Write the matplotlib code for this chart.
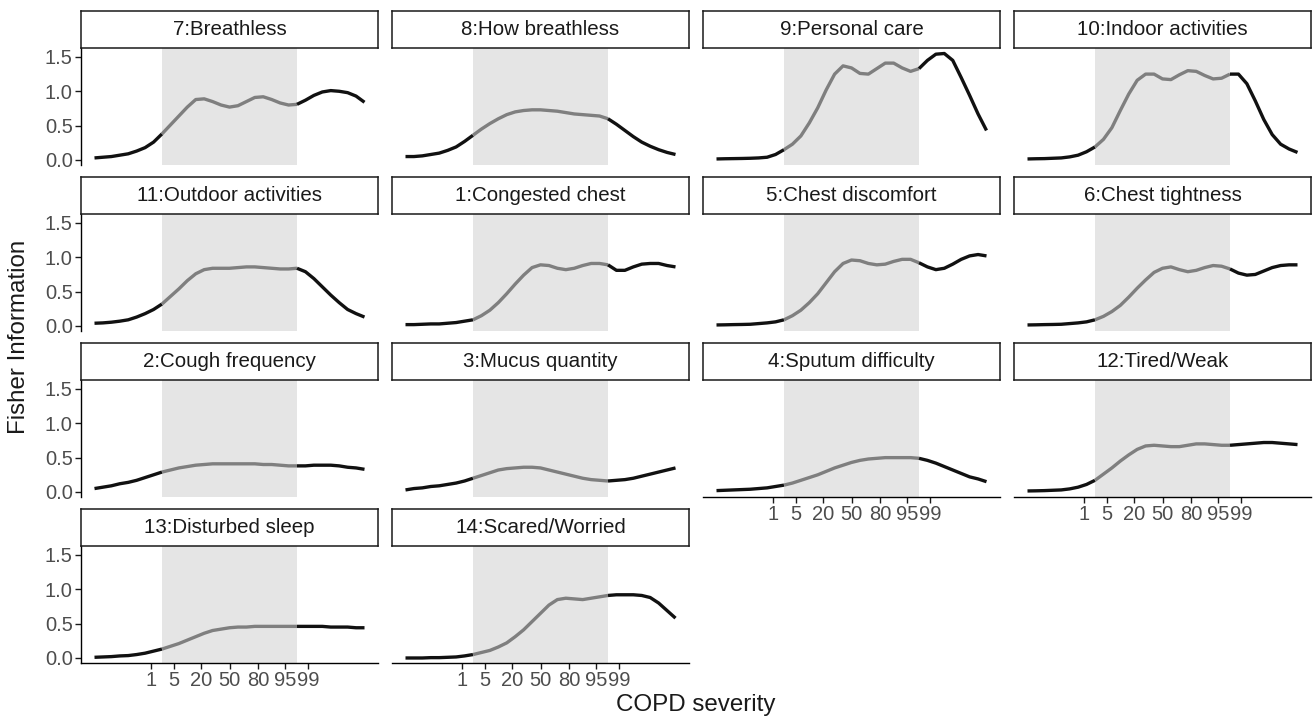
from statistics import NormalDist
import numpy as np
import matplotlib
matplotlib.use("Agg")
import matplotlib.pyplot as plt

plt.rcParams["font.family"] = ["Liberation Sans", "DejaVu Sans"]

# severity on the latent (theta) scale, step 0.25
theta = np.arange(-4, 4.001, 0.25)

titles = [
    "7:Breathless", "8:How breathless", "9:Personal care", "10:Indoor activities",
    "11:Outdoor activities", "1:Congested chest", "5:Chest discomfort", "6:Chest tightness",
    "2:Cough frequency", "3:Mucus quantity", "4:Sputum difficulty", "12:Tired/Weak",
    "13:Disturbed sleep", "14:Scared/Worried",
]

breathless = [0.03, 0.04, 0.05, 0.07, 0.09, 0.13, 0.18, 0.26, 0.38, 0.51, 0.64, 0.77, 0.88,
              0.89, 0.85, 0.80, 0.77, 0.79, 0.85, 0.91, 0.92, 0.88, 0.83, 0.80, 0.81, 0.87,
              0.94, 0.99, 1.01, 1.00, 0.98, 0.93, 0.84]
how_breathless = [0.05, 0.05, 0.06, 0.08, 0.10, 0.14, 0.19, 0.27, 0.36, 0.45, 0.53, 0.60, 0.66,
                  0.70, 0.72, 0.73, 0.73, 0.72, 0.71, 0.69, 0.67, 0.66, 0.65, 0.64, 0.60, 0.52,
                  0.43, 0.34, 0.26, 0.20, 0.15, 0.11, 0.08]
personal_care = [0.015, 0.018, 0.02, 0.022, 0.025, 0.03, 0.04, 0.08, 0.15, 0.23, 0.35, 0.54, 0.76,
                 1.02, 1.25, 1.37, 1.34, 1.26, 1.25, 1.33, 1.41, 1.41, 1.34, 1.29, 1.33, 1.45,
                 1.54, 1.55, 1.45, 1.20, 0.94, 0.67, 0.43]
indoor = [0.015, 0.018, 0.02, 0.025, 0.03, 0.045, 0.07, 0.12, 0.19, 0.30, 0.47, 0.72, 0.96,
          1.16, 1.25, 1.25, 1.18, 1.17, 1.24, 1.30, 1.29, 1.23, 1.18, 1.19, 1.25, 1.25,
          1.11, 0.86, 0.59, 0.37, 0.23, 0.16, 0.11]
outdoor = [0.04, 0.045, 0.055, 0.07, 0.09, 0.13, 0.18, 0.24, 0.32, 0.43, 0.54, 0.66, 0.76,
           0.82, 0.84, 0.84, 0.84, 0.85, 0.86, 0.86, 0.85, 0.84, 0.83, 0.83, 0.84, 0.79,
           0.69, 0.57, 0.45, 0.34, 0.24, 0.18, 0.13]
congested = [0.02, 0.02, 0.025, 0.03, 0.03, 0.04, 0.05, 0.07, 0.09, 0.15, 0.23, 0.34, 0.47,
             0.61, 0.74, 0.85, 0.89, 0.88, 0.84, 0.82, 0.84, 0.88, 0.91, 0.91, 0.89, 0.81,
             0.81, 0.86, 0.90, 0.91, 0.91, 0.88, 0.86]
discomfort = [0.015, 0.017, 0.02, 0.022, 0.025, 0.035, 0.045, 0.06, 0.09, 0.15, 0.23, 0.34, 0.47,
              0.63, 0.79, 0.91, 0.96, 0.95, 0.91, 0.89, 0.90, 0.94, 0.97, 0.97, 0.92, 0.86,
              0.82, 0.84, 0.90, 0.97, 1.02, 1.04, 1.02]
tightness = [0.015, 0.017, 0.02, 0.022, 0.025, 0.035, 0.045, 0.06, 0.09, 0.14, 0.21, 0.30, 0.42,
             0.55, 0.67, 0.78, 0.84, 0.86, 0.82, 0.79, 0.81, 0.85, 0.88, 0.87, 0.83, 0.77,
             0.74, 0.75, 0.80, 0.85, 0.88, 0.89, 0.89]
cough = [0.05, 0.07, 0.09, 0.12, 0.14, 0.17, 0.21, 0.25, 0.29, 0.32, 0.35, 0.37, 0.39,
         0.40, 0.41, 0.41, 0.41, 0.41, 0.41, 0.41, 0.40, 0.40, 0.39, 0.38, 0.38, 0.38,
         0.39, 0.39, 0.39, 0.38, 0.36, 0.35, 0.33]
mucus = [0.03, 0.05, 0.06, 0.08, 0.09, 0.11, 0.13, 0.16, 0.20, 0.24, 0.28, 0.32, 0.34,
         0.35, 0.36, 0.36, 0.35, 0.32, 0.29, 0.26, 0.23, 0.20, 0.18, 0.17, 0.16, 0.17,
         0.18, 0.20, 0.23, 0.26, 0.29, 0.32, 0.35]
sputum = [0.02, 0.025, 0.03, 0.035, 0.04, 0.05, 0.06, 0.08, 0.10, 0.13, 0.17, 0.21, 0.25,
          0.30, 0.35, 0.39, 0.43, 0.46, 0.48, 0.49, 0.50, 0.50, 0.50, 0.50, 0.49, 0.46,
          0.42, 0.37, 0.32, 0.27, 0.22, 0.19, 0.15]
tired = [0.015, 0.017, 0.02, 0.025, 0.03, 0.045, 0.07, 0.11, 0.17, 0.26, 0.35, 0.45, 0.54,
         0.62, 0.67, 0.68, 0.67, 0.66, 0.66, 0.68, 0.70, 0.70, 0.69, 0.68, 0.68, 0.69,
         0.70, 0.71, 0.72, 0.72, 0.71, 0.70, 0.69]
sleep = [0.01, 0.015, 0.02, 0.03, 0.035, 0.05, 0.07, 0.10, 0.13, 0.17, 0.21, 0.26, 0.31,
         0.36, 0.40, 0.42, 0.44, 0.45, 0.45, 0.46, 0.46, 0.46, 0.46, 0.46, 0.46, 0.46,
         0.46, 0.46, 0.45, 0.45, 0.45, 0.44, 0.44]
scared = [0.0, 0.0, 0.0, 0.005, 0.005, 0.01, 0.015, 0.03, 0.05, 0.08, 0.11, 0.16, 0.22,
          0.31, 0.41, 0.53, 0.65, 0.77, 0.85, 0.87, 0.86, 0.85, 0.87, 0.89, 0.91, 0.92,
          0.92, 0.92, 0.91, 0.88, 0.80, 0.69, 0.58]

series = [breathless, how_breathless, personal_care, indoor, outdoor, congested, discomfort,
          tightness, cough, mucus, sputum, tired, sleep, scared]

pct_labels = ["1", "5", "20", "50", "80", "95", "99"]
pct_pos = [NormalDist().inv_cdf(int(p) / 100) for p in pct_labels]
band = (-2, 2)

W, H = 1314, 720
fig = plt.figure(figsize=(W / 100, H / 100), dpi=100)

col_left = [81, 392, 703, 1014]
panel_w = 297
strip_h = 37
panel_h = 117
row_pitch = 166

tick_col = "#4D4D4D"
for i, (title, vals) in enumerate(zip(titles, series)):
    r, c = divmod(i, 4)
    strip_top = 11 + row_pitch * r
    ptop = strip_top + strip_h
    ax = fig.add_axes([col_left[c] / W, 1 - (ptop + panel_h) / H, panel_w / W, panel_h / H])
    sax = fig.add_axes([col_left[c] / W, 1 - ptop / H, panel_w / W, strip_h / H])
    sax.set_xticks([])
    sax.set_yticks([])
    for s in sax.spines.values():
        s.set_linewidth(1.1)
        s.set_color("#1A1A1A")
    sax.text(0.5, 0.5, title, ha="center", va="center", fontsize=14.8, color="#1A1A1A",
             transform=sax.transAxes)

    ax.axvspan(band[0], band[1], color="#E5E5E5", lw=0, zorder=0)
    y = np.array(vals)
    lo = theta <= band[0]
    mid = (theta >= band[0]) & (theta <= band[1])
    hi = theta >= band[1]
    for m, col in ((lo, "#111111"), (mid, "#7F7F7F"), (hi, "#111111")):
        ax.plot(theta[m], y[m], color=col, lw=2.4, solid_capstyle="butt",
                solid_joinstyle="round", zorder=2)

    ax.set_xlim(-4.4, 4.4)
    ax.set_ylim(-0.073, 1.63)
    for s in ("top", "right"):
        ax.spines[s].set_visible(False)

    # axis only on left column / last panel of each column
    bottom_panel = (i + 4 >= len(titles))
    if c == 0:
        ax.set_yticks([0, 0.5, 1.0, 1.5])
        ax.set_yticklabels(["0.0", "0.5", "1.0", "1.5"])
        ax.spines["left"].set_linewidth(1.0)
    else:
        ax.set_yticks([])
        ax.spines["left"].set_visible(False)
    if bottom_panel:
        ax.set_xticks(pct_pos)
        ax.set_xticklabels(pct_labels)
        ax.spines["bottom"].set_linewidth(1.0)
    else:
        ax.set_xticks([])
        ax.spines["bottom"].set_visible(False)
    ax.tick_params(labelsize=14.5, colors=tick_col, length=4, width=1.0, pad=2)
    ax.tick_params(axis="both", color="#1A1A1A")

fig.text(696 / W, 1 - 705 / H, "COPD severity", ha="center", va="center", fontsize=17.4,
         color="#1A1A1A")
fig.text(19 / W, 1 - 337 / H, "Fisher Information", ha="center", va="center", fontsize=17.4,
         rotation=90, color="#1A1A1A")

fig.savefig("out.png", dpi=100)
